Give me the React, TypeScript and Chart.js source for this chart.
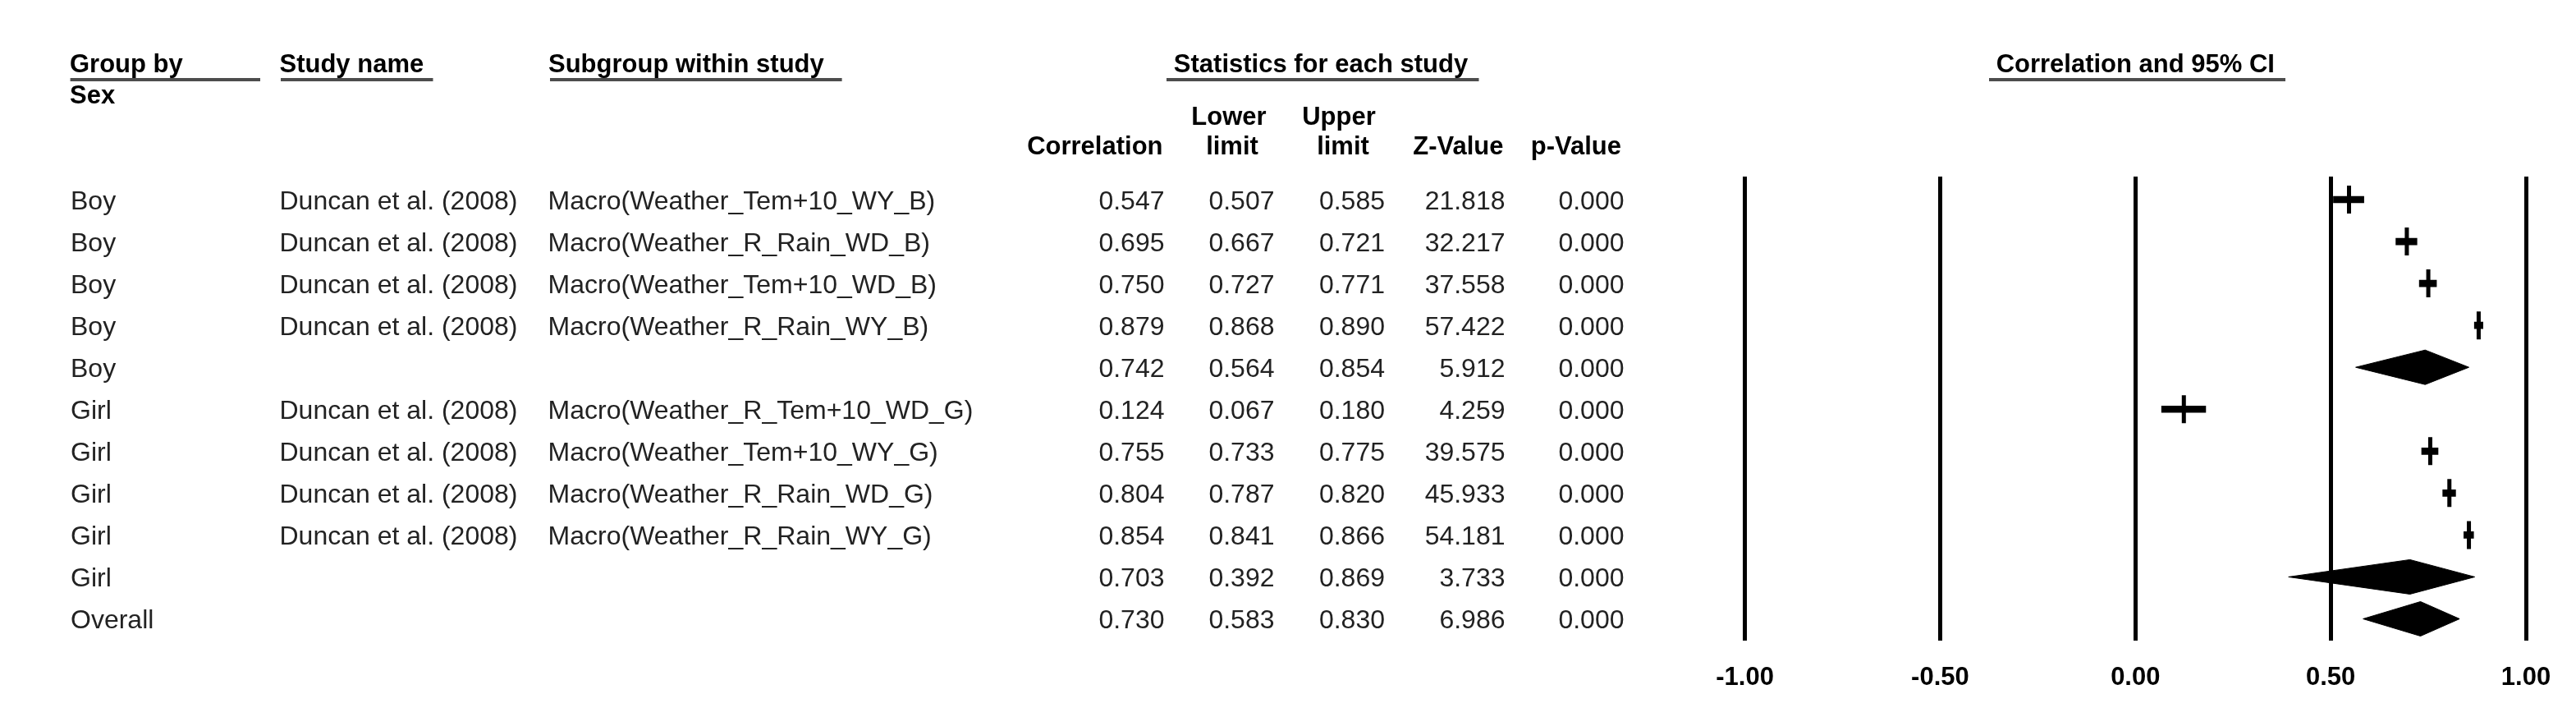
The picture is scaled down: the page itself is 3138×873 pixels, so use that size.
import React, { useEffect, useRef } from 'react';
import { Chart, registerables } from 'chart.js';

Chart.register(...registerables);

// ---------- data ----------
const groups = ['Boy', 'Boy', 'Boy', 'Boy', 'Boy', 'Girl', 'Girl', 'Girl', 'Girl', 'Girl', 'Overall'];
const studies = [
  'Duncan et al. (2008)', 'Duncan et al. (2008)', 'Duncan et al. (2008)', 'Duncan et al. (2008)', '',
  'Duncan et al. (2008)', 'Duncan et al. (2008)', 'Duncan et al. (2008)', 'Duncan et al. (2008)', '', '',
];
const subgroups = [
  'Macro(Weather_Tem+10_WY_B)', 'Macro(Weather_R_Rain_WD_B)', 'Macro(Weather_Tem+10_WD_B)', 'Macro(Weather_R_Rain_WY_B)', '',
  'Macro(Weather_R_Tem+10_WD_G)', 'Macro(Weather_Tem+10_WY_G)', 'Macro(Weather_R_Rain_WD_G)', 'Macro(Weather_R_Rain_WY_G)', '', '',
];
const correlation = [0.547, 0.695, 0.750, 0.879, 0.742, 0.124, 0.755, 0.804, 0.854, 0.703, 0.730];
const lowerLimit = [0.507, 0.667, 0.727, 0.868, 0.564, 0.067, 0.733, 0.787, 0.841, 0.392, 0.583];
const upperLimit = [0.585, 0.721, 0.771, 0.890, 0.854, 0.180, 0.775, 0.820, 0.866, 0.869, 0.830];
const zValue = [21.818, 32.217, 37.558, 57.422, 5.912, 4.259, 39.575, 45.933, 54.181, 3.733, 6.986];
const pValue = [0.000, 0.000, 0.000, 0.000, 0.000, 0.000, 0.000, 0.000, 0.000, 0.000, 0.000];
const isSummary = [false, false, false, false, true, false, false, false, false, true, true];
const xTicks = [-1, -0.5, 0, 0.5, 1];

const FONT = '"Liberation Sans", Arial, Helvetica, sans-serif';

// layout constants
const ROW0 = 243;
const ROW_H = 51.05;
const AREA_TOP = 215;
const AREA_BOTTOM = 780;
const DIAMOND_HALF = 21 / ROW_H;

const tablePlugin = {
  id: 'forestTable',
  afterDraw(chart: any) {
    const ctx: CanvasRenderingContext2D = chart.ctx;
    const ys = chart.scales.y;
    const xs = chart.scales.x;
    ctx.save();
    ctx.textBaseline = 'alphabetic';

    // headers
    ctx.fillStyle = '#000';
    ctx.font = `bold 31px ${FONT}`;
    ctx.textAlign = 'left';
    ctx.fillText('Group by', 85, 88);
    ctx.fillText('Sex', 85, 126);
    ctx.fillText('Study name', 340.5, 88);
    ctx.fillText('Subgroup within study', 668, 88);
    ctx.textAlign = 'center';
    ctx.fillText('Statistics for each study', 1609, 88);
    ctx.fillText('Correlation and 95% CI', xs.getPixelForValue(0), 88);
    ctx.fillText('Lower', 1497, 151.5);
    ctx.fillText('limit', 1501, 188);
    ctx.fillText('Upper', 1631, 151.5);
    ctx.fillText('limit', 1636, 188);
    ctx.textAlign = 'right';
    ctx.fillText('Correlation', 1416.5, 188);
    ctx.fillText('Z-Value', 1831.5, 188);
    ctx.fillText('p-Value', 1975, 188);

    // underlines
    ctx.fillStyle = '#4d4d4d';
    const ul = [[85.6, 317], [342, 527.5], [670, 1025.6], [1421, 1801.5], [2423, 2784]];
    ul.forEach(([a, b]) => ctx.fillRect(a, 95, b - a, 4));

    // rows
    ctx.fillStyle = '#222';
    ctx.font = `32px ${FONT}`;
    correlation.forEach((r, i) => {
      const y = ys.getPixelForValue(i) + 11.5;
      ctx.textAlign = 'left';
      ctx.fillText(groups[i], 86, y);
      if (studies[i]) ctx.fillText(studies[i], 340.5, y);
      if (subgroups[i]) ctx.fillText(subgroups[i], 667.6, y);
      ctx.textAlign = 'right';
      ctx.fillText(r.toFixed(3), 1418.5, y);
      ctx.fillText(lowerLimit[i].toFixed(3), 1552.5, y);
      ctx.fillText(upperLimit[i].toFixed(3), 1687, y);
      ctx.fillText(zValue[i].toFixed(3), 1833.5, y);
      ctx.fillText(pValue[i].toFixed(3), 1978.5, y);
    });
    ctx.restore();
  },
};

export default function App() {
  const ref = useRef<HTMLCanvasElement>(null);

  useEffect(() => {
    const canvas = ref.current!;
    const rows = correlation.map((_, i) => i);
    const studyRows = rows.filter((i) => !isSummary[i]);
    const summaryRows = rows.filter((i) => isSummary[i]);

    const datasets: any[] = [
      {
        type: 'bar',
        indexAxis: 'y',
        data: studyRows.map((i) => ({ y: i, x: [lowerLimit[i], upperLimit[i]] })),
        backgroundColor: '#000',
        borderWidth: 0,
        barThickness: 8,
      },
      {
        type: 'scatter',
        data: studyRows.map((i) => ({ x: correlation[i], y: i })),
        showLine: false,
        pointStyle: 'line',
        pointRotation: 90,
        pointRadius: 17,
        pointBorderWidth: 5,
        pointBorderColor: '#000',
        pointBackgroundColor: '#000',
      },
      ...summaryRows.map((i) => ({
        type: 'line',
        data: [
          { x: lowerLimit[i], y: i },
          { x: correlation[i], y: i - DIAMOND_HALF },
          { x: upperLimit[i], y: i },
          { x: correlation[i], y: i + DIAMOND_HALF },
          { x: lowerLimit[i], y: i },
        ],
        fill: 'shape',
        backgroundColor: '#000',
        borderColor: '#000',
        borderWidth: 1,
        pointRadius: 0,
        tension: 0,
      })),
    ];

    const chart = new Chart(canvas, {
      type: 'scatter',
      data: { datasets },
      plugins: [tablePlugin],
      options: {
        animation: false,
        responsive: false,
        devicePixelRatio: 1,
        layout: { padding: { left: 2125.6, right: 61, top: AREA_TOP, bottom: 0 } },
        plugins: { legend: { display: false }, tooltip: { enabled: false } },
        scales: {
          x: {
            type: 'linear',
            min: -1,
            max: 1,
            offset: false,
            afterFit: (s: any) => {
              s.height = 873 - AREA_BOTTOM;
            },
            afterBuildTicks: (s: any) => {
              s.ticks = xTicks.map((v) => ({ value: v }));
            },
            ticks: {
              autoSkip: false,
              maxRotation: 0,
              padding: 27,
              color: '#000',
              font: { family: FONT, size: 31, weight: 'bold', lineHeight: 1.2 },
              callback: (v: any) => Number(v).toFixed(2),
            },
            grid: { color: '#000', lineWidth: 5, drawTicks: false, offset: false },
            border: { display: false },
          },
          y: {
            type: 'linear',
            display: false,
            reverse: true,
            offset: false,
            grid: { offset: false },
            min: (AREA_TOP - ROW0) / ROW_H,
            max: (AREA_BOTTOM - ROW0) / ROW_H,
          },
        },
      } as any,
    });
    return () => chart.destroy();
  }, []);

  return (
    <div style={{ position: 'absolute', left: 0, top: 0, width: 3138, height: 873, background: '#fff' }}>
      <canvas ref={ref} width={3138} height={873} style={{ display: 'block' }} />
    </div>
  );
}
